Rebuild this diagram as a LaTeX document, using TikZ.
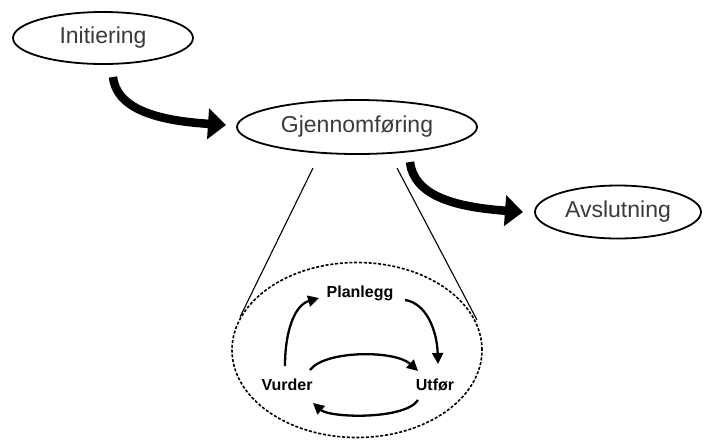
\documentclass[tikz,border=0pt]{standalone}
\usepackage{fontspec}
\setmainfont{Liberation Sans}
\usetikzlibrary{arrows.meta,shapes.geometric}
\definecolor{labelgray}{HTML}{3A3A3A}
\tikzset{
  phase/.style={draw, line width=1.8pt, ellipse, inner sep=0pt, text=labelgray,
    font=\fontsize{23}{27}\selectfont},
  bigarrow/.style={line width=8.5pt, -{Triangle[length=18pt,width=30pt]}},
  zoomline/.style={line width=1.1pt},
  cycle/.style={dash pattern=on 3pt off 1.8pt, line width=1.6pt},
  steplabel/.style={font=\fontsize{16}{19}\selectfont\bfseries, inner sep=0pt},
  steparrow/.style={line width=2.3pt, -{Triangle[length=11pt,width=11pt]}}
}
\begin{document}
\begin{tikzpicture}[x=1pt, y=-1pt]
\useasboundingbox (0,0) rectangle (706,440);
% the three project phases
\node[phase, minimum width=180pt, minimum height=52pt] (init) at (103,38) {Initiering};
\node[phase, minimum width=240pt, minimum height=54pt] (gjen) at (357,127) {Gjennomføring};
\node[phase, minimum width=166pt, minimum height=53pt] (avsl) at (618,212) {Avslutning};
% connector end points
\coordinate (a1s) at (113,77);
\coordinate (a1e) at (226,125);
\coordinate (a2s) at (410,162);
\coordinate (a2e) at (523,212);
\draw[bigarrow] (a1s) .. controls (117,112) and (165,121) .. (a1e);
\draw[bigarrow] (a2s) .. controls (414,196) and (455,207) .. (a2e);
% detail of the execution phase
\node[draw, cycle, ellipse, minimum width=250pt, minimum height=175pt] (detail) at (357,350) {};
\coordinate (zl1) at (313,168);
\coordinate (zl2) at (240,317);
\coordinate (zr1) at (397,168);
\coordinate (zr2) at (477,320);
\draw[zoomline] (zl1) -- (zl2);
\draw[zoomline] (zr1) -- (zr2);
% the inner cycle
\node[steplabel] (plan) at (360,293) {Planlegg};
\node[steplabel] (vurd) at (287,385) {Vurder};
\node[steplabel] (utf) at (435,385) {Utfør};
\coordinate (c1s) at (285,366);
\coordinate (c1e) at (319,298);
\coordinate (c2s) at (405,300);
\coordinate (c2e) at (438,364);
\coordinate (c3s) at (310,370);
\coordinate (c3e) at (418,371);
\coordinate (c4s) at (418,400);
\coordinate (c4e) at (313,403);
\draw[steparrow] (c1s) .. controls (285,330) and (295,305) .. (c1e);
\draw[steparrow] (c2s) .. controls (426,303) and (437,330) .. (c2e);
\draw[steparrow] (c3s) .. controls (325,350) and (395,350) .. (c3e);
\draw[steparrow] (c4s) .. controls (405,420) and (330,418) .. (c4e);
\end{tikzpicture}
\end{document}
